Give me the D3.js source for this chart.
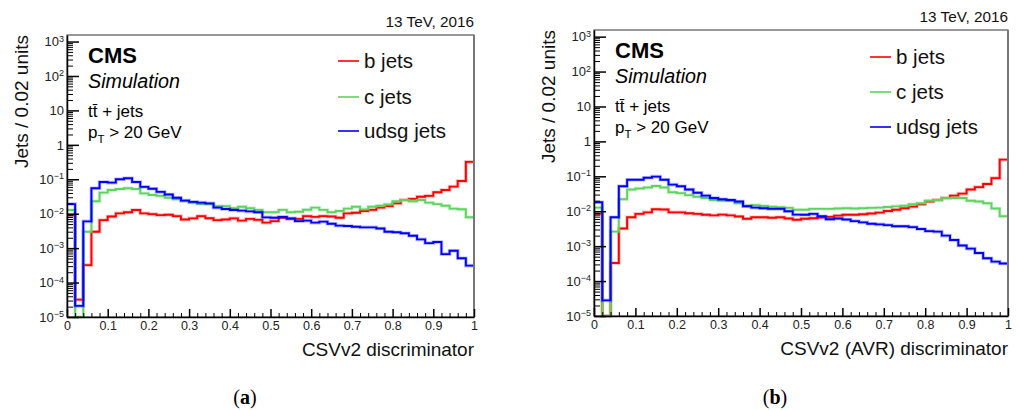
<!DOCTYPE html>
<html>
<head>
<meta charset="utf-8">
<script src="https://cdn.jsdelivr.net/npm/d3@7"></script>
<style>
  body { margin: 0; background: #fff; }
  text { font-family: "Liberation Sans", Arial, Helvetica, sans-serif; }
</style>
</head>
<body>
<div id="content"></div>
<script>
// bin layout: 50 bins of width 0.02 on [0, 1]
const binWidth = 0.02;
const nBins = 50;

// 1e-6 marks bins that fall below the axis minimum (drawn at the floor)
const bJetsA = [0.0091, 3.2e-5, 3.2e-4, 0.0030, 0.0065, 0.0083, 0.0102, 0.011, 0.0128, 0.0102,
  0.0097, 0.0091, 0.0093, 0.0085, 0.0068, 0.0073, 0.0085, 0.0074, 0.0065, 0.0068,
  0.0073, 0.0063, 0.0071, 0.0066, 0.0055, 0.0061, 0.0076, 0.0071, 0.0071, 0.0085,
  0.0081, 0.0085, 0.0083, 0.0076, 0.0102, 0.0107, 0.012, 0.0129, 0.015, 0.0166,
  0.020, 0.025, 0.027, 0.031, 0.033, 0.042, 0.049, 0.061, 0.089, 0.32];

const cJetsA = [0.0128, 1e-6, 0.0030, 0.023, 0.041, 0.049, 0.052, 0.055, 0.052, 0.039,
  0.035, 0.033, 0.029, 0.026, 0.024, 0.021, 0.019, 0.019, 0.0166, 0.0166,
  0.0145, 0.0159, 0.0145, 0.0129, 0.011, 0.011, 0.0129, 0.011, 0.0114, 0.013,
  0.015, 0.0129, 0.011, 0.012, 0.014, 0.0159, 0.0134, 0.0159, 0.017, 0.0186,
  0.023, 0.025, 0.023, 0.025, 0.021, 0.019, 0.017, 0.014, 0.0135, 0.0079];

const udsgJetsA = [0.019, 2.1e-5, 0.006, 0.055, 0.083, 0.080, 0.1, 0.107, 0.083, 0.060,
  0.053, 0.043, 0.036, 0.029, 0.024, 0.022, 0.021, 0.020, 0.015, 0.0137,
  0.0128, 0.0123, 0.0117, 0.011, 0.0078, 0.0076, 0.0081, 0.0073, 0.0061, 0.0063,
  0.0055, 0.0059, 0.0051, 0.0045, 0.0044, 0.0042, 0.0040, 0.0040, 0.0037, 0.0030,
  0.0029, 0.0027, 0.0023, 0.0018, 0.0014, 0.0015, 0.00067, 0.00084, 0.00051, 0.00031];

const bJetsB = [0.0084, 1e-6, 3.3e-4, 0.0032, 0.0067, 0.0084, 0.0093, 0.0114, 0.0112, 0.0093,
  0.0093, 0.0088, 0.0084, 0.0079, 0.0076, 0.0080, 0.0076, 0.0071, 0.0061, 0.0067,
  0.0067, 0.0065, 0.0067, 0.0062, 0.0057, 0.0061, 0.0063, 0.0066, 0.0069, 0.0075,
  0.0079, 0.0079, 0.0082, 0.0086, 0.0091, 0.0102, 0.011, 0.0122, 0.0136, 0.0158,
  0.019, 0.021, 0.024, 0.028, 0.032, 0.042, 0.049, 0.060, 0.089, 0.30];

const cJetsB = [0.0127, 1e-6, 0.0026, 0.022, 0.042, 0.045, 0.048, 0.053, 0.048, 0.035,
  0.033, 0.029, 0.026, 0.024, 0.021, 0.020, 0.020, 0.017, 0.0145, 0.015,
  0.0142, 0.0135, 0.0130, 0.0125, 0.011, 0.011, 0.0117, 0.0117, 0.0117, 0.012,
  0.0122, 0.012, 0.0122, 0.0125, 0.0127, 0.0132, 0.0138, 0.0144, 0.0158, 0.017,
  0.020, 0.021, 0.024, 0.024, 0.024, 0.020, 0.019, 0.017, 0.012, 0.0072];

const udsgJetsB = [0.018, 2.8e-5, 0.0067, 0.052, 0.080, 0.080, 0.091, 0.098, 0.080, 0.058,
  0.052, 0.042, 0.034, 0.028, 0.024, 0.022, 0.021, 0.019, 0.0139, 0.0127,
  0.0122, 0.0117, 0.0117, 0.010, 0.0080, 0.0079, 0.0084, 0.0072, 0.0059, 0.0062,
  0.0058, 0.0052, 0.0048, 0.0044, 0.0042, 0.0040, 0.0037, 0.0037, 0.0035, 0.0031,
  0.0027, 0.0026, 0.0020, 0.0015, 0.00104, 0.00085, 0.00064, 0.00045, 0.00036, 0.00032];

const seriesNames = ["b jets", "c jets", "udsg jets"];
const seriesColors = ["#ff0000", "#5fd35f", "#0000ff"];
const xTicks = [0, 0.1, 0.2, 0.3, 0.4, 0.5, 0.6, 0.7, 0.8, 0.9, 1];
const yDecades = [1e-5, 1e-4, 1e-3, 1e-2, 1e-1, 1, 10, 100, 1000];

let yMin = 1e-5;
let yMax = Math.pow(10, 3.19);

let svg = d3.select("#content")
  .append("svg")
  .attr("width", 1020)
  .attr("height", 410);

let panels = [
  { left: 67, right: 474, top: 35, bottom: 317, data: [bJetsA, cJetsA, udsgJetsA],
    xTitle: "CSVv2 discriminator", caption: "a", capX: 245,
    legX: 338, legY: [61, 97, 131], yTitleX: 28 },
  { left: 594, right: 1008, top: 30, bottom: 316, data: [bJetsB, cJetsB, udsgJetsB],
    xTitle: "CSVv2 (AVR) discriminator", caption: "b", capX: 775,
    legX: 870, legY: [57, 92, 127], yTitleX: 555 }
];

panels.forEach(drawPanel);

function drawPanel(p) {
  let g = svg.append("g");

  let x = d3.scaleLinear().domain([0, 1]).range([p.left, p.right]);
  let y = d3.scaleLog().domain([yMin, yMax]).range([p.bottom, p.top]).clamp(true);

  // minor log ticks 2..9 in each decade
  let yMinor = [];
  yDecades.forEach(d => {
    for (let k = 2; k <= 9; k++) {
      if (d * k < yMax) yMinor.push(d * k);
    }
  });
  let xMinor = d3.range(nBins + 1).map(i => i * binWidth).filter(v => !xTicks.some(t => Math.abs(t - v) < 1e-9));

  // histograms, drawn as steps over the bin edges
  let line = d3.line()
    .x(d => x(d[0]))
    .y(d => y(d[1]))
    .curve(d3.curveStepAfter);

  p.data.forEach((vals, i) => {
    let pts = vals.map((v, j) => [j * binWidth, v]);
    pts.push([nBins * binWidth, vals[nBins - 1]]);
    g.append("path")
      .attr("d", line(pts))
      .attr("fill", "none")
      .attr("stroke", seriesColors[i])
      .attr("stroke-opacity", 0.25)
      .attr("stroke-width", 3.6);
    g.append("path")
      .attr("d", line(pts))
      .attr("fill", "none")
      .attr("stroke", seriesColors[i])
      .attr("stroke-width", 1.9);
  });

  // frame
  g.append("rect")
    .attr("x", p.left)
    .attr("y", p.top)
    .attr("width", p.right - p.left)
    .attr("height", p.bottom - p.top)
    .attr("fill", "none")
    .attr("stroke", "#333")
    .attr("stroke-width", 1);
  g.append("line")
    .attr("x1", p.right).attr("x2", p.right)
    .attr("y1", p.top).attr("y2", p.bottom)
    .attr("stroke", "#777")
    .attr("stroke-width", 2);

  // y axis
  g.append("g")
    .attr("transform", "translate(" + p.left + ",0)")
    .call(d3.axisLeft(y).tickValues(yMinor).tickSizeInner(-6).tickSizeOuter(0).tickFormat(""))
    .call(a => a.select(".domain").remove());

  let yAx = g.append("g")
    .attr("transform", "translate(" + p.left + ",0)")
    .call(d3.axisLeft(y).tickValues(yDecades).tickSizeInner(-12).tickSizeOuter(0).tickPadding(3))
    .call(a => a.select(".domain").attr("stroke-width", 1.5));

  yAx.selectAll(".tick line").attr("stroke-width", 1.5);
  yAx.selectAll(".tick text")
    .attr("font-size", 13)
    .attr("fill", "#222")
    .each(function(d) {
      let t = d3.select(this);
      let e = Math.round(Math.log10(d));
      t.text(null);
      if (e === 0) { t.text("1"); return; }
      if (e === 1) { t.text("10"); return; }
      t.append("tspan").text("10");
      t.append("tspan")
        .attr("dy", "-0.5em")
        .attr("font-size", 9)
        .text(e < 0 ? "\u2212" + (-e) : String(e));
    });

  // x axis
  g.append("g")
    .attr("transform", "translate(0," + p.bottom + ")")
    .call(d3.axisBottom(x).tickValues(xMinor).tickSizeInner(-4).tickSizeOuter(0).tickFormat(""))
    .call(a => a.select(".domain").remove());

  let xAx = g.append("g")
    .attr("transform", "translate(0," + p.bottom + ")")
    .call(d3.axisBottom(x).tickValues(xTicks).tickSizeInner(-8).tickSizeOuter(0).tickPadding(4)
      .tickFormat(d => d === 0 ? "0" : d === 1 ? "1" : d3.format(".1f")(d)))
    .call(a => a.select(".domain").attr("stroke-width", 1.5));

  xAx.selectAll(".tick line").attr("stroke-width", 1.5);
  xAx.selectAll(".tick text").attr("font-size", 12.5).attr("fill", "#222");

  // titles
  g.append("text")
    .attr("x", p.right)
    .attr("y", p.bottom + 39)
    .attr("text-anchor", "end")
    .attr("font-size", 19)
    .attr("fill", "#111")
    .text(p.xTitle);

  g.append("text")
    .attr("transform", "translate(" + p.yTitleX + "," + p.top + ") rotate(-90)")
    .attr("text-anchor", "end")
    .attr("font-size", 19)
    .attr("fill", "#111")
    .text("Jets / 0.02 units");

  g.append("text")
    .attr("x", p.right)
    .attr("y", p.top - 8)
    .attr("text-anchor", "end")
    .attr("font-size", 15.3)
    .attr("fill", "#111")
    .text("13 TeV, 2016");

  // CMS labels
  let tx = p.left + 21;
  g.append("text")
    .attr("x", tx).attr("y", p.top + 28)
    .attr("font-size", 22).attr("font-weight", "bold")
    .text("CMS");
  g.append("text")
    .attr("x", tx).attr("y", p.top + 53)
    .attr("font-size", 19.7).attr("font-style", "italic")
    .text("Simulation");
  let tt = g.append("text")
    .attr("x", tx).attr("y", p.top + 82)
    .attr("font-size", 17);
  tt.append("tspan").text("t");
  tt.append("tspan").text("t\u0304");
  tt.append("tspan").text(" + jets");
  let pt = g.append("text")
    .attr("x", tx).attr("y", p.top + 103)
    .attr("font-size", 17);
  pt.append("tspan").text("p");
  pt.append("tspan").attr("dy", 5).attr("font-size", 11.5).text("T");
  pt.append("tspan").attr("dy", -5).text(" > 20 GeV");

  // legend
  seriesNames.forEach((name, i) => {
    g.append("line")
      .attr("x1", p.legX).attr("x2", p.legX + 21)
      .attr("y1", p.legY[i]).attr("y2", p.legY[i])
      .attr("stroke", seriesColors[i])
      .attr("stroke-width", 1.6);
    g.append("text")
      .attr("x", p.legX + 26)
      .attr("y", p.legY[i])
      .attr("dy", "0.35em")
      .attr("font-size", 20.5)
      .attr("fill", "#111")
      .text(name);
  });

  // caption
  let cap = svg.append("text")
    .attr("x", p.capX)
    .attr("y", 404)
    .attr("text-anchor", "middle")
    .attr("font-size", 20)
    .style("font-family", "'Liberation Serif', 'Times New Roman', serif");
  cap.append("tspan").text("(");
  cap.append("tspan").attr("font-weight", "bold").text(p.caption);
  cap.append("tspan").text(")");
}
</script>
</body>
</html>
